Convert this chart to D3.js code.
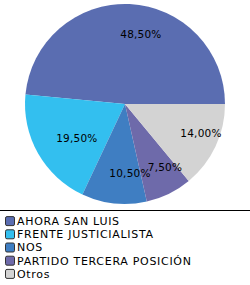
<!DOCTYPE html>
<html>
<head>
<meta charset="utf-8">
<script src="https://cdn.jsdelivr.net/npm/d3@7"></script>
<style>
  body { margin: 0; background: #fff; }
  svg { display: block; }
  text { font-family: Verdana, "DejaVu Sans", sans-serif; fill: #000; }
</style>
</head>
<body>
<svg id="chart"></svg>
<script>
const parties = ["AHORA SAN LUIS", "FRENTE JUSTICIALISTA", "NOS", "PARTIDO TERCERA POSICIÓN", "Otros"];
const shares = [48.5, 19.5, 10.5, 7.5, 14.0];
const colors = ["#5a6db1", "#33bfef", "#3f7ec2", "#6e6aaa", "#d3d3d3"];

const width = 250, height = 285;
const cx = 125, cy = 104, radius = 100;

let svg = d3.select("#chart")
    .attr("width", width)
    .attr("height", height);

let colorScale = d3.scaleOrdinal().domain(parties).range(colors);

// counter-clockwise from 3 o'clock
let pie = d3.pie()
    .sort(null)
    .startAngle(Math.PI / 2)
    .endAngle(Math.PI / 2 - 2 * Math.PI)
    .value((d, i) => shares[i]);

let arcs = pie(parties);
let arc = d3.arc().innerRadius(0).outerRadius(radius);
let labelArc = d3.arc().innerRadius(70).outerRadius(70);

let g = svg.append("g")
    .attr("transform", `translate(${cx},${cy})`);

g.selectAll("path")
    .data(arcs)
    .join("path")
    .attr("d", arc)
    .attr("fill", d => colorScale(d.data));

let fmt = v => v.toFixed(2).replace(".", ",") + "%";

g.selectAll("text")
    .data(arcs)
    .join("text")
    .attr("x", d => labelArc.centroid(d)[0] - 8)
    .attr("y", d => labelArc.centroid(d)[1])
    .attr("dy", "0.35em")
    .style("font-size", "10.5px")
    .style("letter-spacing", "0.2px")
    .text(d => fmt(d.value));

// legend
svg.append("line")
    .attr("x1", 0).attr("x2", width)
    .attr("y1", 210.5).attr("y2", 210.5)
    .attr("stroke", "#000");

let rowScale = d3.scaleBand()
    .domain(parties)
    .range([214.5, 280.5]);

let legend = svg.append("g")
    .selectAll("g")
    .data(parties)
    .join("g")
    .attr("transform", d => `translate(0,${rowScale(d) + rowScale.bandwidth() / 2})`);

legend.append("rect")
    .attr("x", 5.5).attr("y", -4.5)
    .attr("width", 9).attr("height", 9)
    .attr("rx", 1.5)
    .attr("fill", d => colorScale(d))
    .attr("stroke", "#333");

legend.append("text")
    .attr("x", 17)
    .attr("dy", "0.35em")
    .style("font-size", "11px")
    .style("letter-spacing", "0.7px")
    .text(d => d);
</script>
</body>
</html>
